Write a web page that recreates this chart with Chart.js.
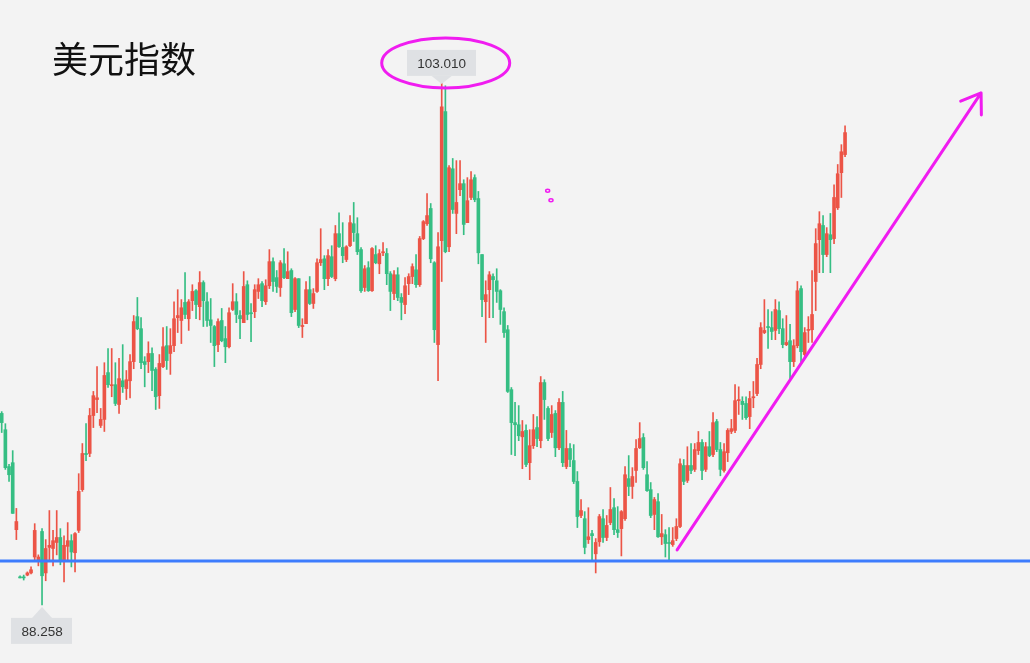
<!DOCTYPE html>
<html>
<head>
<meta charset="utf-8">
<title>美元指数</title>
<script src="https://cdn.jsdelivr.net/npm/chart.js@4.4.1/dist/chart.umd.min.js"></script>
<style>
  html, body { margin: 0; padding: 0; background: #f3f3f3; }
  #wrap { position: relative; width: 1030px; height: 663px; overflow: hidden; }
  canvas { display: block; }
</style>
</head>
<body>
<div id="wrap"><canvas id="dxy" width="1030" height="663"></canvas></div>
<script>
// 美元指数 日K，数值按图片读出（估计值）
const title = '美元指数';

const open = [
  93.66, 93.20, 92.16, 92.27, 90.38, 89.05, 89.05, 89.10, 89.16, 89.61,
  89.53, 90.33, 89.16, 89.88, 89.85, 90.02, 90.16, 89.53, 89.91, 90.07,
  89.73, 90.36, 91.51, 92.53, 92.53, 93.60, 94.05, 93.32, 93.49, 94.81,
  94.44, 94.47, 93.91, 94.58, 94.36, 94.58, 95.12, 96.39, 96.05, 95.12,
  95.12, 95.35, 94.90, 94.16, 94.98, 95.57, 95.35, 95.57, 96.36, 96.28,
  96.79, 96.33, 96.84, 97.12, 96.67, 97.35, 96.81, 96.30, 96.11, 95.60,
  96.28, 95.77, 95.54, 96.59, 96.81, 96.42, 96.22, 97.29, 96.50, 96.53,
  97.10, 97.32, 96.81, 97.26, 97.94, 97.49, 97.21, 97.88, 97.46, 97.69,
  96.59, 97.46, 96.11, 96.19, 97.15, 96.76, 97.10, 97.91, 98.02, 97.46,
  98.08, 97.46, 98.73, 98.34, 98.00, 98.39, 99.01, 98.73, 98.28, 97.21,
  97.77, 97.12, 98.14, 97.88, 98.19, 98.17, 97.60, 97.04, 97.57, 96.93,
  96.73, 97.32, 97.52, 97.71, 97.29, 98.59, 99.01, 99.44, 97.91, 95.60,
  98.53, 102.17, 98.36, 100.56, 99.30, 99.97, 100.14, 99.04, 99.75, 100.31,
  99.72, 98.14, 96.81, 97.15, 97.52, 97.40, 97.12, 96.53, 96.02, 94.33,
  93.40, 93.34, 93.00, 93.18, 92.27, 92.75, 93.26, 92.89, 94.53, 93.80,
  93.12, 93.66, 92.69, 93.97, 92.16, 92.67, 92.33, 91.74, 90.78, 90.69,
  90.10, 90.27, 89.70, 90.04, 90.69, 90.16, 90.58, 91.00, 90.38, 90.41,
  90.69, 91.82, 91.60, 92.05, 92.69, 92.98, 91.93, 91.51, 90.81, 91.17,
  90.18, 90.24, 90.02, 89.96, 90.13, 90.47, 92.19, 91.77, 92.19, 92.08,
  92.61, 92.84, 92.08, 92.72, 92.50, 93.43, 92.64, 92.05, 92.55, 93.15,
  93.18, 94.02, 94.00, 93.94, 93.57, 94.10, 94.22, 95.04, 95.94, 96.11,
  96.08, 96.00, 96.56, 96.05, 95.60, 95.71, 95.12, 95.57, 97.18, 95.32,
  96.00, 96.02, 97.38, 98.56, 98.96, 98.14, 98.70, 98.59, 99.46, 100.45,
  100.96
];

const high = [
  93.71, 93.37, 92.22, 92.61, 90.98, 89.08, 89.10, 89.19, 89.33, 90.55,
  89.67, 90.41, 90.10, 90.92, 90.36, 90.92, 90.41, 90.21, 90.58, 90.24,
  90.30, 91.96, 92.81, 93.37, 93.80, 94.28, 94.98, 93.80, 95.09, 95.49,
  95.49, 95.09, 95.21, 95.60, 94.87, 95.32, 96.42, 96.93, 96.36, 95.26,
  95.68, 95.51, 94.95, 95.32, 96.08, 96.11, 96.05, 96.81, 97.15, 96.87,
  97.63, 96.87, 97.29, 97.15, 97.66, 97.40, 97.07, 96.90, 96.14, 96.33,
  96.62, 96.11, 96.64, 97.32, 97.04, 96.56, 97.66, 97.40, 96.76, 97.29,
  97.46, 97.38, 97.43, 98.28, 98.05, 97.69, 97.97, 98.31, 98.22, 97.74,
  97.49, 97.46, 96.33, 97.38, 97.52, 97.18, 98.02, 98.87, 98.11, 98.28,
  98.39, 98.96, 99.32, 99.04, 98.39, 99.24, 99.61, 99.18, 98.34, 97.83,
  97.94, 98.34, 98.39, 98.28, 98.48, 98.31, 97.66, 97.69, 97.77, 97.04,
  97.49, 97.60, 97.88, 98.14, 98.65, 99.10, 99.86, 99.58, 97.94, 98.76,
  103.010, 102.90, 100.65, 100.85, 100.79, 100.79, 100.25, 100.31, 100.48, 100.39,
  99.92, 98.14, 97.40, 97.66, 97.60, 97.74, 97.15, 96.64, 96.14, 94.39,
  93.97, 93.88, 93.46, 93.34, 93.20, 93.63, 93.57, 94.70, 94.61, 93.85,
  93.88, 93.74, 94.08, 94.28, 93.18, 92.81, 92.78, 92.02, 91.23, 90.89,
  91.00, 90.36, 90.13, 90.81, 90.95, 90.78, 91.57, 91.26, 91.03, 90.92,
  92.16, 92.47, 92.13, 92.92, 93.40, 93.09, 92.30, 91.71, 91.29, 91.40,
  90.81, 90.38, 90.44, 90.44, 90.69, 92.38, 92.36, 92.72, 92.81, 92.81,
  93.15, 92.92, 92.84, 93.15, 93.68, 93.49, 92.84, 92.81, 93.23, 93.49,
  94.47, 94.41, 94.13, 94.13, 94.28, 94.56, 95.21, 96.22, 96.87, 96.59,
  96.53, 96.87, 96.81, 96.33, 96.42, 96.17, 95.74, 97.38, 97.26, 96.08,
  96.39, 97.69, 98.87, 99.35, 99.24, 98.90, 99.30, 100.11, 100.68, 101.24,
  101.77
];

const low = [
  93.12, 92.08, 91.74, 90.84, 90.10, 89.02, 88.96, 89.08, 89.13, 89.53,
  89.36, 88.258, 88.94, 89.53, 89.36, 89.67, 89.39, 88.91, 89.53, 89.33,
  89.19, 90.30, 91.46, 92.33, 92.44, 93.26, 93.68, 93.26, 93.15, 94.39,
  94.13, 93.88, 93.66, 94.25, 94.05, 94.10, 94.92, 96.02, 94.92, 94.41,
  94.81, 94.30, 93.77, 93.80, 94.95, 94.90, 94.76, 95.40, 95.94, 95.63,
  96.33, 96.00, 96.56, 96.33, 96.30, 96.11, 96.11, 95.66, 94.98, 95.40,
  95.68, 95.09, 95.51, 96.56, 96.22, 95.77, 96.22, 96.30, 95.68, 96.36,
  96.90, 96.67, 96.73, 97.18, 97.10, 97.07, 96.96, 97.46, 97.46, 96.39,
  96.53, 96.08, 95.80, 96.19, 96.73, 96.62, 97.07, 97.83, 97.15, 97.26,
  97.49, 97.40, 98.34, 97.91, 97.94, 98.36, 98.51, 98.14, 97.07, 97.10,
  97.10, 97.10, 97.88, 97.60, 98.11, 97.29, 96.56, 96.87, 96.84, 96.30,
  96.47, 97.01, 97.32, 97.21, 97.24, 98.56, 98.96, 97.91, 95.66, 94.58,
  97.38, 98.19, 98.22, 99.30, 98.73, 99.80, 98.70, 99.04, 99.69, 99.63,
  97.88, 96.39, 95.66, 96.36, 96.36, 96.79, 96.17, 95.80, 94.25, 92.50,
  92.47, 92.89, 92.10, 92.16, 91.79, 92.67, 92.72, 92.69, 93.49, 92.89,
  92.98, 92.44, 92.64, 92.16, 92.10, 92.16, 91.68, 90.44, 90.72, 89.70,
  89.99, 89.53, 89.16, 89.91, 90.02, 90.07, 90.52, 90.24, 90.16, 89.64,
  90.64, 91.34, 91.26, 91.71, 92.67, 92.08, 91.46, 90.72, 90.38, 90.16,
  89.96, 89.61, 89.53, 89.91, 90.07, 90.44, 91.65, 91.71, 91.96, 92.02,
  92.50, 91.79, 92.02, 92.44, 92.44, 92.58, 91.90, 92.00, 92.30, 93.09,
  93.12, 93.63, 93.49, 93.49, 93.23, 93.82, 94.16, 94.92, 95.91, 95.49,
  95.74, 95.74, 95.91, 95.51, 95.57, 94.64, 94.98, 95.51, 95.09, 95.26,
  95.66, 95.66, 96.56, 97.63, 97.63, 98.08, 97.63, 98.45, 99.41, 99.75,
  100.90
];

const close = [
  93.40, 92.13, 91.93, 90.84, 90.61, 89.02, 89.02, 89.16, 89.25, 90.36,
  89.61, 89.08, 89.85, 89.94, 90.07, 90.16, 89.53, 89.94, 90.07, 89.75,
  90.27, 91.46, 92.53, 92.50, 93.60, 94.16, 94.10, 93.49, 94.73, 94.47,
  94.47, 93.94, 94.64, 94.41, 94.61, 95.12, 96.25, 96.05, 95.09, 95.04,
  95.35, 94.87, 94.13, 95.07, 95.54, 95.15, 95.57, 96.33, 96.42, 96.64,
  96.45, 96.81, 97.10, 96.73, 97.35, 96.84, 96.28, 96.14, 95.57, 96.25,
  95.71, 95.54, 96.50, 96.81, 96.45, 96.33, 97.24, 96.45, 96.47, 97.15,
  97.29, 96.84, 97.26, 97.94, 97.38, 97.24, 97.91, 97.49, 97.66, 96.50,
  97.46, 96.14, 96.14, 97.15, 96.76, 97.04, 97.91, 98.00, 97.46, 98.11,
  97.52, 98.73, 98.36, 98.11, 98.36, 99.04, 98.76, 98.22, 97.12, 97.74,
  97.12, 98.31, 97.91, 98.17, 98.22, 97.60, 97.10, 97.57, 96.93, 96.79,
  97.26, 97.52, 97.80, 97.29, 98.59, 99.07, 99.24, 98.02, 96.02, 98.36,
  102.31, 98.22, 100.59, 99.41, 99.61, 100.14, 98.99, 99.66, 100.25, 99.69,
  98.19, 96.87, 97.01, 97.57, 97.43, 97.10, 96.59, 95.94, 94.28, 93.40,
  93.34, 93.03, 93.15, 92.22, 92.75, 93.20, 92.95, 94.53, 94.05, 92.95,
  93.63, 92.69, 93.97, 92.27, 92.67, 92.36, 91.74, 90.75, 90.92, 89.88,
  90.18, 90.21, 90.02, 90.75, 90.16, 90.50, 90.95, 90.38, 90.30, 90.89,
  91.93, 91.60, 91.88, 92.67, 92.95, 92.13, 91.48, 90.78, 91.23, 90.18,
  90.27, 89.99, 89.99, 90.07, 90.47, 92.24, 91.74, 92.19, 92.05, 92.64,
  92.84, 92.05, 92.72, 92.47, 93.40, 92.64, 92.08, 92.58, 93.18, 93.23,
  94.02, 94.05, 93.91, 93.54, 94.08, 94.13, 95.04, 96.08, 96.00, 96.08,
  95.97, 96.59, 96.05, 95.60, 95.66, 95.12, 95.57, 97.12, 95.40, 95.94,
  96.02, 96.45, 98.45, 99.01, 98.14, 98.73, 98.56, 99.75, 100.42, 101.04,
  101.58
];

// 蓝色水平支撑线
const supportLevel = 89.50;

// 手绘标注（数据坐标）：箭头起止点、两个小圆点
const arrowFrom = { x: 184.2, y: 89.81 };
const arrowTo = { x: 267.1, y: 102.70 };
const dots = [{ x: 148.9, y: 99.94 }, { x: 149.8, y: 99.67 }];

const UP = '#ec5446';
const DOWN = '#35be83';
const MAGENTA = '#f01cf0';

const idx = open.map((_, i) => i);
const colors = idx.map(i => close[i] >= open[i] ? UP : DOWN);
const bodies = idx.map(i => ({ x: i, y: [open[i], close[i]] }));
const wicks = idx.map(i => ({ x: i, y: [low[i], high[i]] }));

let hiIdx = 0, loIdx = 0;
idx.forEach(i => {
  if (high[i] > high[hiIdx]) hiIdx = i;
  if (low[i] < low[loIdx]) loIdx = i;
});

function drawTag(ctx, x, tipY, text, above) {
  ctx.font = '13.5px "Liberation Sans", Arial, sans-serif';
  const w = ctx.measureText(text).width + 20;
  const h = 26;
  const boxY = above ? tipY - 8 - h : tipY + 11;
  ctx.fillStyle = '#dfe1e4';
  ctx.fillRect(Math.round(x - w / 2), boxY, Math.round(w), h);
  ctx.beginPath();
  const baseY = above ? boxY + h : boxY;
  ctx.moveTo(x - 10, baseY);
  ctx.lineTo(x, tipY);
  ctx.lineTo(x + 10, baseY);
  ctx.closePath();
  ctx.fill();
  ctx.fillStyle = '#333';
  ctx.textAlign = 'center';
  ctx.textBaseline = 'middle';
  ctx.fillText(text, x, boxY + h / 2 + 1);
}

const annotate = {
  id: 'annotate',
  afterDatasetsDraw(chart) {
    const ctx = chart.ctx;
    const xs = chart.scales.x, ys = chart.scales.y;
    ctx.save();

    // 标题
    ctx.fillStyle = '#111';
    ctx.font = '36px "Noto Sans CJK SC", sans-serif';
    ctx.textAlign = 'left';
    ctx.textBaseline = 'alphabetic';
    ctx.fillText(title, 52, 73);

    // 最高 / 最低价标签
    const hx = xs.getPixelForValue(hiIdx);
    const hy = ys.getPixelForValue(high[hiIdx]);
    drawTag(ctx, hx, hy + 2, high[hiIdx].toFixed(3), true);
    const lx = xs.getPixelForValue(loIdx);
    const ly = ys.getPixelForValue(low[loIdx]);
    drawTag(ctx, lx, ly + 2, low[loIdx].toFixed(3), false);

    ctx.strokeStyle = MAGENTA;
    ctx.lineCap = 'round';
    ctx.lineJoin = 'round';

    // 圈出最高点
    ctx.lineWidth = 3;
    ctx.beginPath();
    ctx.ellipse(hx + 4, hy - 19, 64, 25, 0, 0, Math.PI * 2);
    ctx.stroke();

    // 上升箭头
    const ax = xs.getPixelForValue(arrowFrom.x), ay = ys.getPixelForValue(arrowFrom.y);
    const bx = xs.getPixelForValue(arrowTo.x), by = ys.getPixelForValue(arrowTo.y);
    ctx.beginPath();
    ctx.moveTo(ax, ay);
    ctx.lineTo(bx, by);
    const ang = Math.atan2(ay - by, ax - bx);
    const len = 22, spread = 0.6;
    ctx.moveTo(bx + len * Math.cos(ang - spread), by + len * Math.sin(ang - spread));
    ctx.lineTo(bx, by);
    ctx.lineTo(bx + len * Math.cos(ang + spread), by + len * Math.sin(ang + spread));
    ctx.stroke();

    // 小圆点
    ctx.lineWidth = 1.5;
    dots.forEach(d => {
      ctx.beginPath();
      ctx.ellipse(xs.getPixelForValue(d.x), ys.getPixelForValue(d.y), 2, 1.5, 0, 0, Math.PI * 2);
      ctx.stroke();
    });
    ctx.restore();
  }
};

new Chart(document.getElementById('dxy'), {
  type: 'bar',
  data: {
    datasets: [
      {
        type: 'line',
        data: [{ x: -2, y: supportLevel }, { x: 290, y: supportLevel }],
        borderColor: '#3d7cfd',
        borderWidth: 3,
        pointRadius: 0,
        order: 0
      },
      {
        data: bodies,
        backgroundColor: colors,
        barThickness: 3,
        minBarLength: 1,
        grouped: false,
        borderWidth: 0,
        order: 1
      },
      {
        data: wicks,
        backgroundColor: colors,
        barThickness: 1,
        grouped: false,
        borderWidth: 0,
        order: 2
      }
    ]
  },
  options: {
    responsive: false,
    animation: false,
    devicePixelRatio: 1,
    events: [],
    layout: { padding: 0 },
    plugins: { legend: { display: false }, tooltip: { enabled: false } },
    scales: {
      x: { type: 'linear', display: false, offset: false, min: -0.464, max: 280.44 },
      y: { display: false, min: 86.62, max: 105.32 }
    }
  },
  plugins: [annotate]
});
</script>
</body>
</html>
